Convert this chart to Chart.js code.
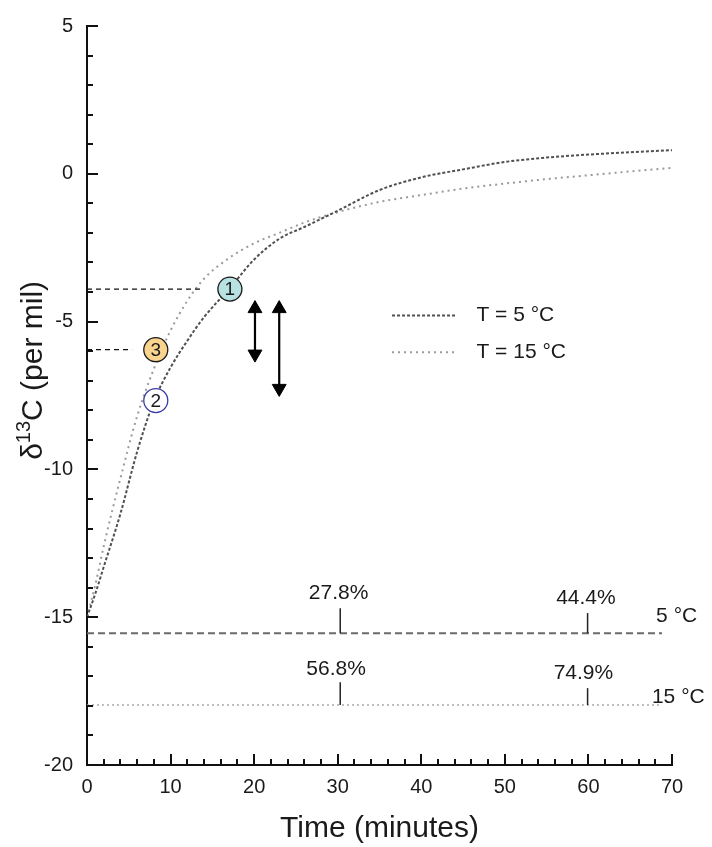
<!DOCTYPE html>
<html><head><meta charset="utf-8">
<script src="https://cdn.jsdelivr.net/npm/chart.js@4"></script>
<style>html,body{margin:0;padding:0;background:#fff;overflow:hidden}</style>
</head><body>
<canvas id="c" width="712" height="847"></canvas>
<script>
const FONT = "'Liberation Sans', Arial, Helvetica, sans-serif";

// ---- data ----
const times    = [0, 1, 2, 4, 6, 8, 10, 12, 14, 17, 20, 23, 26, 30, 35, 40, 45, 50, 55, 60, 65, 70];
const delta5C  = [-15.0, -14.2, -13.3, -11.5, -9.4, -7.7, -6.55, -5.65, -4.85, -3.9, -2.9, -2.2, -1.8, -1.25, -0.55, -0.12, 0.15, 0.4, 0.55, 0.65, 0.73, 0.8];
const delta15C = [-15.0, -13.9, -12.6, -10.3, -8.2, -6.6, -5.3, -4.3, -3.55, -2.85, -2.35, -2.0, -1.65, -1.3, -0.95, -0.72, -0.5, -0.33, -0.18, -0.05, 0.08, 0.2];
const seriesNames = ['T = 5 °C', 'T = 15 °C'];

const xTicks = [0, 10, 20, 30, 40, 50, 60, 70];
const yTicks = [-20, -15, -10, -5, 0, 5];

// fraction-converted markers (bottom strips)
const stripNames   = ['5 °C', '15 °C'];
const stripLevels  = [-15.54, -17.97];
const stripEnds    = [68.8, 68.5];
const markTimes    = [30.3, 59.9];
const markTops5C   = [-14.7, -14.86];
const markTops15C  = [-17.2, -17.4];
const fraction5C   = ['27.8%', '44.4%'];
const fraction15C  = ['56.8%', '74.9%'];

// numbered points
const pointTimes  = [17.1, 8.23, 8.23];
const pointValues = [-3.9, -7.67, -5.95];
const pointLabels = ['1', '2', '3'];

// guide lines to axis (for points 1 and 3)
const guideValues = [-3.9, -5.95];
const guideEnds   = [14.0, 5.4];

// double arrows
const arrowTimes   = [20.1, 23.0];
const arrowTops    = [-4.29, -4.29];
const arrowBottoms = [-6.37, -7.53];

// ---- build datasets ----
const curve = (ys) => times.map((t, i) => ({x: t, y: ys[i]}));
const datasets = [];
datasets.push({label: seriesNames[1], order: 20, data: curve(delta15C), showLine: true, borderColor: '#9a9a9a', borderWidth: 2, borderDash: [2, 4], pointRadius: 0, cubicInterpolationMode: 'monotone'});
datasets.push({label: seriesNames[0], order: 19, data: curve(delta5C), showLine: true, borderColor: '#505050', borderWidth: 2, borderDash: [3, 2], pointRadius: 0, cubicInterpolationMode: 'monotone'});

guideValues.forEach((v, i) => datasets.push({order: 10, data: [{x: 0, y: v}, {x: guideEnds[i], y: v}], showLine: true, borderColor: '#111', borderWidth: 1.3, borderDash: [5, 4], pointRadius: 0}));

datasets.push({order: 10, data: [{x: 0, y: stripLevels[0]}, {x: stripEnds[0], y: stripLevels[0]}], showLine: true, borderColor: '#6a6a6a', borderWidth: 2, borderDash: [7, 4], pointRadius: 0});
datasets.push({order: 10, data: [{x: 0, y: stripLevels[1]}, {x: stripEnds[1], y: stripLevels[1]}], showLine: true, borderColor: '#aaaaaa', borderWidth: 1.5, borderDash: [2, 3], pointRadius: 0});
markTimes.forEach((t, i) => {
  datasets.push({order: 5, data: [{x: t, y: stripLevels[0]}, {x: t, y: markTops5C[i]}], showLine: true, borderColor: '#222', borderWidth: 1.5, pointRadius: 0});
  datasets.push({order: 5, data: [{x: t, y: stripLevels[1]}, {x: t, y: markTops15C[i]}], showLine: true, borderColor: '#222', borderWidth: 1.5, pointRadius: 0});
});

// arrows: arrowhead triangles centred inside the tips
const headR = 8;
arrowTimes.forEach((t, i) => {
  datasets.push({order: 2, arrow: true, tipTop: arrowTops[i], tipBottom: arrowBottoms[i], data: [{x: t, y: arrowTops[i]}, {x: t, y: arrowBottoms[i]}], showLine: true, borderColor: '#000', borderWidth: 2.2,
    pointStyle: 'triangle', pointRadius: headR, pointBackgroundColor: '#000', pointBorderColor: '#000', pointBorderWidth: 1, pointRotation: [0, 180]});
});

datasets.push({order: 0, data: pointTimes.map((t, i) => ({x: t, y: pointValues[i]})), showLine: false, pointRadius: 12,
  pointBackgroundColor: ['#b8e1e2', '#ffffff', '#f8d48f'], pointBorderColor: ['#1a1a1a', '#3a3aa8', '#1a1a1a'], pointBorderWidth: 1.3});

// ---- decorations drawn from the scales ----
const decor = {
  id: 'decor',
  beforeDatasetsDraw(chart) {
    const y = chart.scales.y;
    chart.data.datasets.forEach((ds, di) => {
      if (!ds.arrow) return;
      const meta = chart.getDatasetMeta(di);
      meta.data[0].y = y.getPixelForValue(ds.tipTop) + headR;
      meta.data[1].y = y.getPixelForValue(ds.tipBottom) - headR;
    });
  },
  afterDatasetsDraw(chart) {
    const {ctx, scales: {x, y}, chartArea: ca} = chart;
    ctx.save();
    // inward ticks
    ctx.strokeStyle = '#111';
    ctx.lineWidth = 2;
    for (let v = y.min; v <= y.max; v += 1) {
      const py = Math.round(y.getPixelForValue(v));
      const len = (v % 5 === 0) ? 11 : 6;
      ctx.beginPath(); ctx.moveTo(ca.left, py); ctx.lineTo(ca.left + len, py); ctx.stroke();
    }
    for (let v = x.min; v <= x.max; v += 2) {
      const px = Math.round(x.getPixelForValue(v));
      const len = (v % 10 === 0) ? 11 : 6;
      ctx.beginPath(); ctx.moveTo(px, ca.bottom); ctx.lineTo(px, ca.bottom - len); ctx.stroke();
    }
    // fraction labels
    ctx.fillStyle = '#1a1a1a';
    ctx.font = '21px ' + FONT;
    ctx.textAlign = 'center'; ctx.textBaseline = 'middle';
    const lab5Y = [-14.2, -14.35], lab15Y = [-16.75, -16.9], labX = [30.1, 59.7];
    fraction5C.forEach((s, i) => ctx.fillText(s, x.getPixelForValue(labX[i]), y.getPixelForValue(lab5Y[i])));
    fraction15C.forEach((s, i) => ctx.fillText(s, x.getPixelForValue(labX[i] - 0.3), y.getPixelForValue(lab15Y[i])));
    ctx.textAlign = 'left';
    ctx.fillText(stripNames[0], x.getPixelForValue(68.1), y.getPixelForValue(-14.95));
    ctx.fillText(stripNames[1], x.getPixelForValue(67.6), y.getPixelForValue(-17.7));
    // numbered circles
    ctx.textAlign = 'center';
    ctx.font = '19px ' + FONT;
    pointLabels.forEach((s, i) => ctx.fillText(s, x.getPixelForValue(pointTimes[i]), y.getPixelForValue(pointValues[i]) + 1));
    // legend
    const legY = [-4.79, -6.04];
    const dsFor = [chart.data.datasets[1], chart.data.datasets[0]];
    ctx.font = '21px ' + FONT;
    ctx.textAlign = 'left';
    seriesNames.forEach((name, i) => {
      const ds = dsFor[i];
      const py = y.getPixelForValue(legY[i]);
      ctx.save();
      ctx.strokeStyle = ds.borderColor; ctx.lineWidth = ds.borderWidth; ctx.setLineDash(ds.borderDash);
      ctx.beginPath(); ctx.moveTo(x.getPixelForValue(36.5), py); ctx.lineTo(x.getPixelForValue(44.2), py); ctx.stroke();
      ctx.restore();
      ctx.fillText(name, x.getPixelForValue(46.6), py);
    });
    // y-axis title with real superscript
    ctx.save();
    ctx.translate(ca.left - 55, y.getPixelForValue(-6.65));
    ctx.rotate(-Math.PI / 2);
    ctx.textAlign = 'left';
    ctx.textBaseline = 'alphabetic';
    const big = '30px ' + FONT, small = '20px ' + FONT;
    const parts = [['δ', big, 0], ['13', small, -12], ['C (per mil)', big, 0]];
    let total = 0;
    parts.forEach(p => { ctx.font = p[1]; total += ctx.measureText(p[0]).width; });
    let cx = -total / 2;
    parts.forEach(p => { ctx.font = p[1]; ctx.fillText(p[0], cx, 10 + p[2]); cx += ctx.measureText(p[0]).width; });
    ctx.restore();
    ctx.restore();
  }
};

new Chart(document.getElementById('c'), {
  type: 'scatter',
  data: {datasets},
  options: {
    responsive: false,
    animation: false,
    devicePixelRatio: 1,
    layout: {padding: {left: 0, right: 40, top: 25, bottom: 0}},
    plugins: {legend: {display: false}, tooltip: {enabled: false}},
    scales: {
      x: {
        type: 'linear', min: 0, max: 70,
        afterBuildTicks: (s) => { s.ticks = xTicks.map(v => ({value: v})); },
        grid: {display: false, drawTicks: false},
        border: {display: true, color: '#111', width: 2},
        ticks: {color: '#1a1a1a', font: {family: FONT, size: 20}, padding: 10, maxRotation: 0},
        title: {display: true, text: 'Time (minutes)', color: '#1a1a1a', font: {family: FONT, size: 30}, padding: {top: 0, bottom: 0}},
        afterFit: (s) => { s.height = 82; }
      },
      y: {
        type: 'linear', min: -20, max: 5,
        afterBuildTicks: (s) => { s.ticks = yTicks.map(v => ({value: v})); },
        grid: {display: false, drawTicks: false},
        border: {display: true, color: '#111', width: 2},
        ticks: {color: '#1a1a1a', font: {family: FONT, size: 20}, padding: 14},
        afterFit: (s) => { s.width = 87; }
      }
    }
  },
  plugins: [decor]
});
</script>
</body></html>
